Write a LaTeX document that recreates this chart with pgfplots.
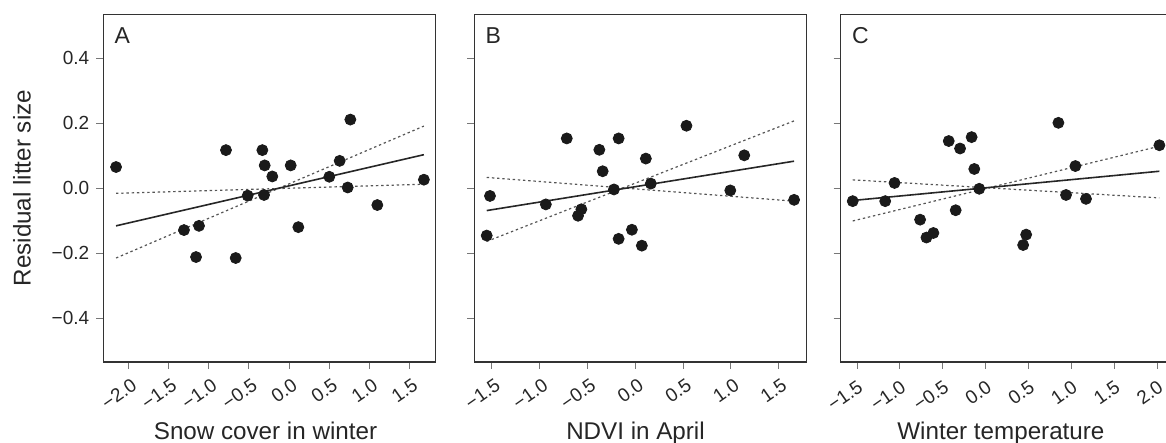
\documentclass[border=0pt]{standalone}
\usepackage{pgfplots}
\pgfplotsset{compat=1.18}
\usepackage{fontspec}
\setmainfont{Liberation Sans}
\definecolor{pt}{HTML}{1A1A1A}
\definecolor{axc}{HTML}{333333}
\definecolor{tk}{HTML}{777777}
\definecolor{dl}{HTML}{555555}
\pgfplotsset{
  panel/.style={
    scale only axis, width=166.2pt, height=173.85pt, anchor=south west,
    ymin=-0.535, ymax=0.535,
    ytick={-0.4,-0.2,0,0.2,0.4},
    tick align=outside, tick pos=left,
    major tick length=3.5pt,
    every tick/.style={tk, line width=0.5pt},
    axis line style={axc, line width=0.7pt},
    tick label style={font=\fontsize{9.5}{11}\selectfont, text=black!85},
    x tick label style={rotate=35, anchor=north east, inner sep=0.5pt, yshift=-3.5pt, xshift=-1pt},
    label style={font=\fontsize{12.1}{14}\selectfont, text=black!85},
    xlabel style={at={(axis description cs:0.5,0)}, anchor=base, yshift=-39pt},
    clip=false,
  },
  pts/.style={only marks, mark=*, mark size=2.75pt, color=pt},
  fitl/.style={no marks, color=black!85, line width=0.8pt},
  cil/.style={no marks, color=dl, line width=0.6pt, dash pattern=on 1.2pt off 1.4pt},
}
\begin{document}
\begin{tikzpicture}
\path[use as bounding box] (0,0) rectangle (583pt,221.5pt);
% Panel A
\begin{axis}[panel, at={(51.65pt,40.5pt)},
  xmin=-2.313, xmax=1.827,
  xtick={-2,-1.5,-1,-0.5,0,0.5,1,1.5},
  xticklabels={−2.0,−1.5,−1.0,−0.5,0.0,0.5,1.0,1.5},
  yticklabels={−0.4,−0.2,0.0,0.2,0.4},
  xlabel={Snow cover in winter}, xlabel style={xshift=-2pt},
  ylabel={Residual litter size},
  every axis y label/.append style={at={(axis description cs:-0.245,0.5)}, anchor=center},
]
\addplot[cil] coordinates {(-2.154,-0.215) (1.68,0.191)};
\addplot[cil] coordinates {(-2.154,-0.016) (1.68,0.012)};
\addplot[fitl] coordinates {(-2.154,-0.116) (1.68,0.103)};
\addplot[pts] table {
x y
-2.154 0.065
-0.785 0.117
-0.332 0.117
-0.303 0.070
-0.208 0.036
0.021 0.070
0.764 0.211
0.631 0.084
0.502 0.035
0.731 0.002
1.100 -0.052
-0.515 -0.023
-0.311 -0.021
0.116 -0.120
-1.308 -0.129
-1.121 -0.116
-1.158 -0.212
-0.664 -0.215
1.680 0.026
};
\node[anchor=north west, inner sep=0pt, font=\fontsize{11.5}{13}\selectfont, text=black!85]
  at ([xshift=5.5pt,yshift=-6.5pt]rel axis cs:0,1) {A};
\end{axis}
% Panel B
\begin{axis}[panel, at={(237.15pt,40.5pt)},
  xmin=-1.685, xmax=1.795,
  xtick={-1.5,-1,-0.5,0,0.5,1,1.5},
  xticklabels={−1.5,−1.0,−0.5,0.0,0.5,1.0,1.5},
  yticklabels={},
  xlabel={NDVI in April}, xlabel style={xshift=-2.5pt},
]
\addplot[cil] coordinates {(-1.555,-0.164) (1.663,0.207)};
\addplot[cil] coordinates {(-1.555,0.033) (1.663,-0.040)};
\addplot[fitl] coordinates {(-1.555,-0.069) (1.663,0.083)};
\addplot[pts] table {
x y
-1.521 -0.024
-1.555 -0.146
-0.936 -0.050
-0.564 -0.065
-0.599 -0.085
-0.717 0.153
-0.174 0.153
-0.376 0.118
-0.341 0.052
-0.223 -0.004
0.111 0.091
0.163 0.014
0.536 0.192
-0.174 -0.156
-0.035 -0.128
0.069 -0.177
1.141 0.101
0.995 -0.007
1.663 -0.036
};
\node[anchor=north west, inner sep=0pt, font=\fontsize{11.5}{13}\selectfont, text=black!85]
  at ([xshift=5.5pt,yshift=-6.5pt]rel axis cs:0,1) {B};
\end{axis}
% Panel C
\begin{axis}[panel, at={(420.35pt,40.5pt)},
  xmin=-1.69, xmax=2.187,
  xtick={-1.5,-1,-0.5,0,0.5,1,1.5,2},
  xticklabels={−1.5,−1.0,−0.5,0.0,0.5,1.0,1.5,2.0},
  x tick label style={xshift=-1.5pt},
  yticklabels={},
  xlabel={Winter temperature}, xlabel style={xshift=-3pt},
]
\addplot[cil] coordinates {(-1.55,-0.101) (2.027,0.129)};
\addplot[cil] coordinates {(-1.55,0.0255) (2.027,-0.030)};
\addplot[fitl] coordinates {(-1.55,-0.038) (2.027,0.052)};
\addplot[pts] table {
x y
-1.550 -0.040
-1.171 -0.040
-1.062 0.016
-0.764 -0.097
-0.690 -0.152
-0.609 -0.138
-0.430 0.145
-0.298 0.122
-0.163 0.157
-0.132 0.059
-0.349 -0.068
-0.074 -0.002
0.849 0.201
1.047 0.068
0.938 -0.021
1.171 -0.033
0.473 -0.143
0.438 -0.175
2.027 0.132
};
\node[anchor=north west, inner sep=0pt, font=\fontsize{11.5}{13}\selectfont, text=black!85]
  at ([xshift=5.5pt,yshift=-6.5pt]rel axis cs:0,1) {C};
\end{axis}
\end{tikzpicture}
\end{document}
